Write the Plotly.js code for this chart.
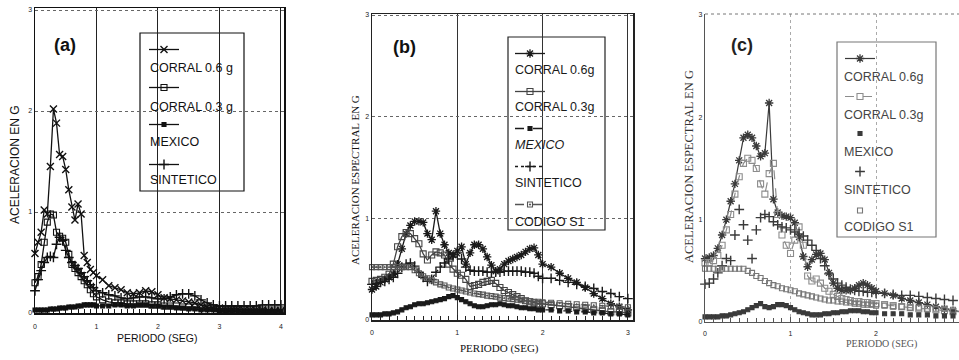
<!DOCTYPE html>
<html><head><meta charset="utf-8">
<script src="https://cdn.plot.ly/plotly-3.0.1.min.js"></script>
<style>html,body{margin:0;padding:0;background:#fff;}#chart{width:959px;height:360px;}</style>
</head><body><div id="chart"></div>
<script>
// ---------------- DATA ----------------
const seriesNames = ['CORRAL 0.6 g','CORRAL 0.3 g','MEXICO','SINTETICO','CODIGO S1'];
const legendTextsA = ['CORRAL 0.6 g','CORRAL 0.3 g','MEXICO','SINTETICO'];
const legendTextsB = ['CORRAL 0.6g','CORRAL 0.3g','<i>MEXICO</i>','SINTETICO','CODIGO S1'];
const legendTextsC = ['CORRAL 0.6g','CORRAL 0.3g','MEXICO','SINTETICO','CODIGO S1'];
const tickValsA = [0,1,2,3,4];
const tickValsBC = [0,1,2,3];
const tickValsY = [0,1,2,3];

const periodsA = [0,0.05,0.1,0.15,0.2,0.25,0.3,0.35,0.4,0.45,0.5,0.55,0.6,0.65,0.7,0.75,0.8,0.85,0.9,0.95,1.0,
  1.1,1.2,1.3,1.4,1.5,1.6,1.7,1.8,1.9,2.0,2.1,2.2,2.3,2.4,2.5,2.6,2.7,2.8,2.9,3.0,
  3.1,3.2,3.3,3.4,3.5,3.6,3.7,3.8,3.9,4.0];
const corral06A = [0.59,0.70,0.80,1.02,0.98,1.45,2.02,1.88,1.57,1.55,1.42,1.22,1.05,0.92,1.08,0.98,0.57,0.50,0.43,0.40,0.37,
  0.33,0.27,0.25,0.23,0.20,0.19,0.20,0.22,0.21,0.18,0.15,0.14,0.13,0.12,0.11,0.10,0.08,0.06,0.05,0.05,
  0.04,0.04,0.04,0.03,0.03,0.03,0.03,0.02,0.02,0.02];
const corral03A = [0.30,0.36,0.48,0.70,0.90,0.98,0.97,0.80,0.76,0.74,0.70,0.58,0.48,0.44,0.40,0.36,0.32,0.28,0.23,0.19,0.16,
  0.13,0.11,0.10,0.10,0.09,0.09,0.09,0.09,0.08,0.08,0.07,0.07,0.07,0.06,0.06,0.06,0.05,0.05,0.05,0.04,
  0.04,0.04,0.04,0.03,0.03,0.03,0.03,0.03,0.03,0.03];
const mexicoA = [0.03,0.03,0.03,0.03,0.03,0.04,0.04,0.04,0.05,0.05,0.05,0.06,0.06,0.06,0.07,0.07,0.08,0.08,0.08,0.08,0.07,
  0.07,0.07,0.08,0.08,0.07,0.07,0.08,0.08,0.07,0.07,0.06,0.06,0.05,0.05,0.04,0.04,0.03,0.03,0.03,0.02,
  0.02,0.02,0.02,0.02,0.02,0.02,0.02,0.02,0.02,0.02];
const sinteticoA = [0.22,0.33,0.42,0.50,0.55,0.56,0.55,0.68,0.75,0.72,0.62,0.55,0.50,0.47,0.44,0.40,0.36,0.32,0.28,0.25,0.22,
  0.20,0.18,0.17,0.15,0.14,0.15,0.16,0.16,0.15,0.14,0.14,0.16,0.18,0.19,0.19,0.17,0.13,0.10,0.08,0.07,
  0.07,0.07,0.07,0.07,0.07,0.07,0.08,0.08,0.08,0.08];

const periodsBC = [0,0.05,0.1,0.15,0.2,0.25,0.3,0.35,0.4,0.45,0.5,0.55,0.6,0.65,0.7,0.75,0.8,0.85,0.9,0.95,
  1.0,1.05,1.1,1.15,1.2,1.25,1.3,1.35,1.4,1.45,1.5,1.55,1.6,1.65,1.7,1.75,1.8,1.85,1.9,1.95,2.0,
  2.1,2.2,2.3,2.4,2.5,2.6,2.7,2.8,2.9,3.0];
const corral06B = [0.30,0.33,0.37,0.40,0.42,0.45,0.55,0.70,0.85,0.93,0.97,0.97,0.96,0.85,0.79,1.07,0.85,0.74,0.66,0.64,
  0.68,0.72,0.55,0.66,0.74,0.74,0.70,0.62,0.54,0.48,0.50,0.55,0.58,0.60,0.62,0.64,0.67,0.70,0.71,0.64,0.55,
  0.52,0.46,0.41,0.37,0.32,0.26,0.21,0.16,0.13,0.10];
const corral03B = [0.38,0.39,0.40,0.42,0.45,0.55,0.72,0.82,0.86,0.85,0.80,0.75,0.65,0.59,0.64,0.67,0.66,0.64,0.55,0.50,
  0.46,0.44,0.40,0.33,0.34,0.35,0.37,0.38,0.39,0.36,0.32,0.29,0.27,0.25,0.23,0.21,0.19,0.18,0.17,0.16,0.16,
  0.15,0.14,0.13,0.12,0.11,0.10,0.09,0.08,0.08,0.07];
const mexicoB = [0.05,0.05,0.05,0.06,0.06,0.07,0.08,0.10,0.12,0.13,0.15,0.16,0.16,0.17,0.18,0.19,0.20,0.21,0.23,0.24,
  0.22,0.20,0.18,0.16,0.14,0.13,0.13,0.14,0.15,0.15,0.16,0.15,0.14,0.14,0.13,0.12,0.12,0.11,0.11,0.10,0.10,
  0.10,0.09,0.09,0.08,0.08,0.07,0.07,0.06,0.06,0.05];
const sinteticoB = [0.35,0.36,0.37,0.38,0.40,0.42,0.46,0.52,0.55,0.56,0.53,0.47,0.42,0.38,0.40,0.47,0.52,0.56,0.60,0.62,
  0.66,0.60,0.52,0.49,0.48,0.48,0.48,0.47,0.47,0.47,0.47,0.48,0.48,0.48,0.48,0.48,0.47,0.47,0.46,0.43,0.41,
  0.41,0.39,0.37,0.35,0.33,0.31,0.28,0.26,0.23,0.21];
const codigoB = [0.52,0.52,0.52,0.52,0.52,0.52,0.52,0.52,0.52,0.52,0.49,0.46,0.43,0.41,0.39,0.37,0.35,0.34,0.32,0.31,
  0.30,0.29,0.28,0.27,0.26,0.255,0.25,0.24,0.235,0.23,0.22,0.215,0.21,0.205,0.20,0.195,0.19,0.185,0.18,0.18,0.175,
  0.17,0.165,0.16,0.155,0.15,0.145,0.14,0.135,0.13,0.125];

const corral06C = [0.62,0.63,0.65,0.72,0.85,1.00,1.18,1.35,1.58,1.80,1.83,1.80,1.72,1.62,1.65,2.14,1.20,1.07,1.04,1.03,
  1.02,0.97,0.83,0.64,0.54,0.61,0.66,0.67,0.61,0.48,0.38,0.33,0.31,0.31,0.31,0.33,0.36,0.38,0.36,0.33,0.30,
  0.28,0.26,0.23,0.21,0.19,0.17,0.15,0.13,0.11,0.10];
const corral03C = [0.58,0.58,0.60,0.65,0.75,0.90,1.05,1.25,1.42,1.55,1.60,1.58,1.50,1.35,1.25,1.45,1.55,1.05,0.85,0.75,
  0.67,0.80,0.93,0.75,0.45,0.40,0.42,0.38,0.33,0.30,0.27,0.25,0.23,0.22,0.21,0.20,0.20,0.19,0.19,0.18,0.18,
  0.17,0.16,0.15,0.14,0.13,0.13,0.12,0.11,0.10,0.10];
const mexicoC = [0.05,0.05,0.05,0.05,0.06,0.06,0.07,0.08,0.09,0.10,0.12,0.14,0.16,0.18,0.15,0.14,0.15,0.17,0.17,0.16,
  0.14,0.12,0.10,0.09,0.08,0.07,0.07,0.07,0.08,0.08,0.09,0.09,0.10,0.10,0.11,0.11,0.11,0.10,0.10,0.09,0.09,
  0.08,0.08,0.08,0.07,0.07,0.07,0.06,0.06,0.06,0.06];
const sinteticoC = [0.37,0.38,0.42,0.48,0.55,0.62,0.60,0.85,1.10,0.95,0.80,0.62,0.90,1.02,1.05,1.03,0.98,0.95,0.93,0.92,
  0.90,0.88,0.86,0.84,0.80,0.75,0.70,0.62,0.55,0.47,0.42,0.38,0.36,0.34,0.32,0.31,0.30,0.30,0.29,0.29,0.28,
  0.28,0.27,0.26,0.26,0.25,0.24,0.23,0.22,0.21,0.20];
const codigoC = [0.52,0.52,0.52,0.52,0.52,0.52,0.52,0.52,0.52,0.52,0.50,0.48,0.45,0.43,0.40,0.38,0.36,0.35,0.33,0.32,
  0.31,0.30,0.28,0.27,0.26,0.25,0.24,0.23,0.22,0.21,0.21,0.20,0.20,0.19,0.19,0.18,0.18,0.17,0.17,0.17,0.16,
  0.16,0.15,0.15,0.14,0.14,0.13,0.13,0.13,0.12,0.12];

// ---------------- LAYOUT HELPERS ----------------
const W = 959, H = 360;
const fx = p => p / W, fy = p => 1 - p / H;

const traces = [];
const annotations = [];
const shapes = [];
const layout = {
  width: W, height: H, margin: {l:0, r:0, t:0, b:0},
  paper_bgcolor: '#fff', plot_bgcolor: '#fff', showlegend: true,
  font: {family: 'Liberation Sans, Arial, sans-serif', color: '#111'}
};
let legendCount = 0;

function addSeries(x, y, name, st, ax, ay, legPos) {
  const line = {color: st.color, width: st.width || 1.3, dash: st.dash || 'solid'};
  const marker = {symbol: st.symbol, size: st.size || 6, color: st.color,
                  line: {color: st.color, width: st.mlw || 1.1}};
  traces.push({type:'scatter', mode: st.mode || 'lines+markers', x: x, y: y, name: name,
    xaxis: ax, yaxis: ay, showlegend: false, cliponaxis: false, line: line, marker: marker});
  legendCount++;
  const lid = legendCount === 1 ? 'legend' : 'legend' + legendCount;
  traces.push({type:'scatter', mode: st.legMode || st.mode || 'lines+markers', x: [null], y: [null], name: '',
    xaxis: ax, yaxis: ay, legend: lid, showlegend: true, hoverinfo: 'skip', line: line, marker: marker});
  layout[lid] = {x: fx(legPos[0] - 20), y: fy(legPos[1] - 13), xanchor: 'left', yanchor: 'top',
    bgcolor: 'rgba(0,0,0,0)', borderwidth: 0, font: {size: 8}, itemwidth: 30};
}

function axisPair(xa, ya, cfg) {
  layout[xa] = {domain: [fx(cfg.x0), fx(cfg.x1)], range: [0, cfg.xmax], anchor: cfg.yid,
    tickvals: cfg.xticks, ticks: 'inside', ticklen: 5, tickcolor: cfg.axc, tickwidth: 1,
    tickfont: {size: 7, color: '#222', family: 'Liberation Sans, Arial'}, ticklabelstandoff: cfg.xstand,
    minor: {dtick: 0.1, tick0: 0, ticks: 'inside', ticklen: 4, tickcolor: cfg.axc, tickwidth: 1, showgrid: false},
    showline: true, linecolor: cfg.axc, linewidth: cfg.lw, mirror: cfg.mirror,
    showgrid: true, gridcolor: cfg.xgc, griddash: cfg.xgd, gridwidth: 1, zeroline: false, fixedrange: true};
  layout[ya] = {domain: [fy(cfg.y0), fy(cfg.y1)], range: [0, cfg.ymax], anchor: cfg.xid,
    tickvals: tickValsY, ticks: '', tickfont: {size: 7, color: '#222', family: 'Liberation Sans, Arial'},
    showline: true, linecolor: cfg.axc, linewidth: cfg.lw, mirror: cfg.mirror,
    showgrid: cfg.ygrid, gridcolor: '#666', griddash: 'dot', gridwidth: 1, zeroline: false, fixedrange: true};
}

// Panel (a)
axisPair('xaxis', 'yaxis', {x0:35, x1:284, xmax:4.05, y0:313, y1:8, ymax:3.02, xid:'x', yid:'y',
  xticks: tickValsA, axc:'#111', lw:1.5, mirror:true, xgc:'#222', xgd:'solid', ygrid:true, xstand:6});
// Panel (b)
axisPair('xaxis2', 'yaxis2', {x0:372, x1:633, xmax:3.06, y0:320, y1:14, ymax:3.01, xid:'x2', yid:'y2',
  xticks: tickValsBC, axc:'#222', lw:1.5, mirror:true, xgc:'#333', xgd:'solid', ygrid:true, xstand:5});
// Panel (c)
axisPair('xaxis3', 'yaxis3', {x0:705, x1:959, xmax:2.97, y0:322, y1:14, ymax:3.01, xid:'x3', yid:'y3',
  xticks: tickValsBC, axc:'#555', lw:1.2, mirror:false, xgc:'#aaa', xgd:'dot', ygrid:false, xstand:4});

// styles
const cA = '#111', cB = '#1a1a1a', cC = '#3a3a3a', cC2 = '#8c8c8c';
const stA = [
  {color:cA, symbol:'x-thin', size:7, mlw:1.4},
  {color:cA, symbol:'square-open', size:6},
  {color:cA, symbol:'square', size:4},
  {color:cA, symbol:'cross-thin', size:7, mlw:1.4}
];
const stB = [
  {color:cB, symbol:'asterisk', size:7, mlw:1.3},
  {color:'#444', symbol:'square-open', size:6},
  {color:cB, symbol:'square', size:4, dash:'dash'},
  {color:cB, symbol:'cross-thin', size:7, mlw:1.4, dash:'dot'},
  {color:'#555', symbol:'square-open-dot', size:5, dash:'dash'}
];
const stC = [
  {color:cC, symbol:'asterisk', size:7, mlw:1.3, width:1.2},
  {color:cC2, symbol:'square-open', size:6, dash:'dash', width:1.2},
  {color:cC, symbol:'square', size:4, mode:'markers'},
  {color:cC, symbol:'cross-thin', size:7, mlw:1.4, mode:'markers'},
  {color:'#777', symbol:'square-open', size:5, mode:'markers'}
];

const dataA = [corral06A, corral03A, mexicoA, sinteticoA];
const dataB = [corral06B, corral03B, mexicoB, sinteticoB, codigoB];
const dataC = [corral06C, corral03C, mexicoC, sinteticoC, codigoC];

const legA = {sx:164, ys:[48,86,123,163], tx:148, tys:[68,107,142,180]};
const legB = {sx:530, ys:[52,90,127,165,203], tx:513, tys:[70,107,145,183,222]};
const legC = {sx:860, ys:[57,95,132,170,209], tx:842, tys:[77,115,152,190,227]};

dataA.forEach((d,i) => addSeries(periodsA, d, seriesNames[i], stA[i], 'x', 'y', [legA.sx, legA.ys[i]]));
dataB.forEach((d,i) => addSeries(periodsBC, d, seriesNames[i], stB[i], 'x2', 'y2', [legB.sx, legB.ys[i]]));
dataC.forEach((d,i) => addSeries(periodsBC, d, seriesNames[i], stC[i], 'x3', 'y3', [legC.sx, legC.ys[i]]));

// legend boxes
function box(x0,y0,x1,y1,col){
  shapes.push({type:'rect', xref:'paper', yref:'paper', x0:fx(x0), x1:fx(x1), y0:fy(y1), y1:fy(y0),
    line:{color:col, width:1.2}, fillcolor:'#fff', layer:'between'});
}
box(140,33,244,191,'#111');
box(508,37,605,230,'#222');
box(837,42,936,237,'#777');
// dotted top frame of panel c
shapes.push({type:'line', xref:'paper', yref:'paper', x0:fx(705), x1:1, y0:fy(14), y1:fy(14),
  line:{color:'#777', width:1, dash:'dot'}});

function txt(x,y,t,f,opt){
  annotations.push(Object.assign({xref:'paper', yref:'paper', x:fx(x), y:fy(y), text:t, showarrow:false,
    xanchor:'left', yanchor:'middle', font:f}, opt||{}));
}
const legFontA = {family:'Liberation Sans, Arial', size:12.5, color:'#111'};
const legFontB = {family:'Liberation Sans, Arial', size:12.5, color:'#1a1a1a'};
const legFontC = {family:'Liberation Sans, Arial', size:12.5, color:'#444'};
legendTextsA.forEach((t,i)=>txt(legA.tx, legA.tys[i], t, legFontA));
legendTextsB.forEach((t,i)=>txt(legB.tx, legB.tys[i], t, legFontB));
legendTextsC.forEach((t,i)=>txt(legC.tx, legC.tys[i], t, legFontC));

// panel labels
const pl = {family:'Liberation Sans, Arial', size:18, color:'#111'};
txt(65,45,'<b>(a)</b>',pl,{xanchor:'center'});
txt(404,47,'<b>(b)</b>',pl,{xanchor:'center'});
txt(742,45,'<b>(c)</b>',Object.assign({},pl,{color:'#222'}),{xanchor:'center'});

// axis titles
txt(15,165,'ACELERACION EN G',{family:'Liberation Sans, Arial', size:12, color:'#111'},{xanchor:'center', textangle:-90});
txt(355,180,'ACELERACION ESPECTRAL EN G',{family:'Liberation Serif, Times New Roman', size:11, color:'#111'},{xanchor:'center', textangle:-90});
txt(689,167,'ACELERACION ESPECTRAL EN G',{family:'Liberation Serif, Times New Roman', size:12.5, color:'#333'},{xanchor:'center', textangle:-90});
txt(157,338,'PERIODO (SEG)',{family:'Liberation Sans, Arial', size:10.5, color:'#111'},{xanchor:'center'});
txt(499,348,'PERIODO (SEG)',{family:'Liberation Serif, Times New Roman', size:11, color:'#111'},{xanchor:'center'});
txt(881,344,'PERIODO (SEG)',{family:'Liberation Serif, Times New Roman', size:10, color:'#555'},{xanchor:'center'});

layout.annotations = annotations;
layout.shapes = shapes;

Plotly.newPlot('chart', traces, layout, {staticPlot:true, displayModeBar:false});
</script></body></html>
